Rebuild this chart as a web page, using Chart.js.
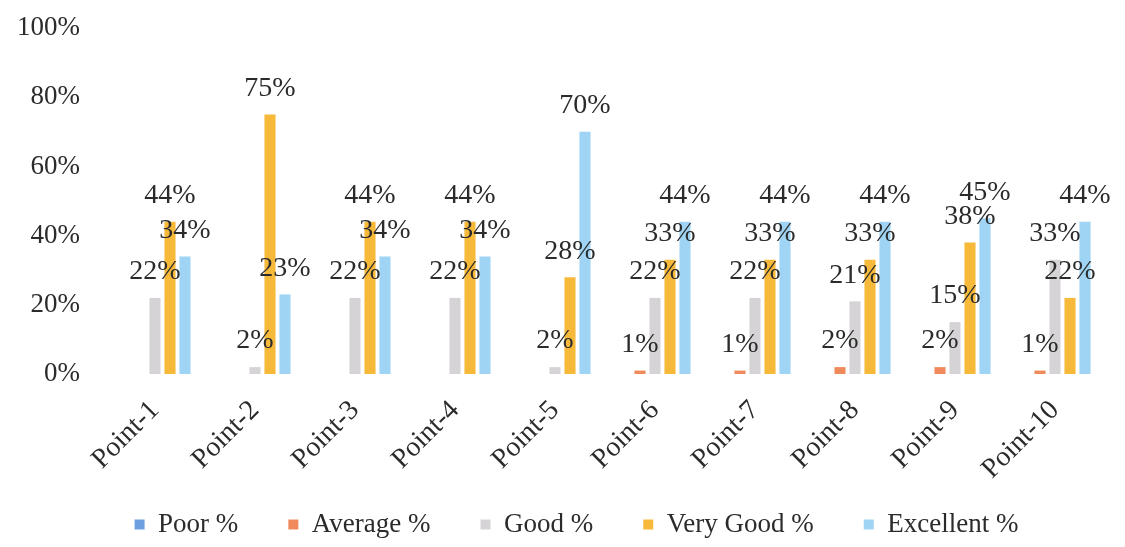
<!DOCTYPE html>
<html>
<head>
<meta charset="utf-8">
<script src="https://cdn.jsdelivr.net/npm/chart.js@4/dist/chart.umd.min.js"></script>
<style>
  html, body { margin: 0; padding: 0; background: #fff; }
  #wrap { width: 1125px; height: 547px; position: relative; }
</style>
</head>
<body>
<div id="wrap"><canvas id="chart"></canvas></div>
<script>
// ---- Data ----
const categories = ["Point-1","Point-2","Point-3","Point-4","Point-5","Point-6","Point-7","Point-8","Point-9","Point-10"];
const poor      = [0, 0, 0, 0, 0, 0, 0, 0, 0, 0];
const average   = [0, 0, 0, 0, 0, 1, 1, 2, 2, 1];
const good      = [22, 2, 22, 22, 2, 22, 22, 21, 15, 33];
const veryGood  = [44, 75, 44, 44, 28, 33, 33, 33, 38, 22];
const excellent = [34, 23, 34, 34, 70, 44, 44, 44, 45, 44];
const yTicks    = [0, 20, 40, 60, 80, 100];

const FONT = "'Liberation Serif', 'Times New Roman', serif";
const TEXT = "#2b2b2b";

// labels drawn over each non-zero bar
const barLabels = {
  id: "barLabels",
  afterDatasetsDraw(chart) {
    const ctx = chart.ctx;
    ctx.save();
    ctx.font = "28px " + FONT;
    ctx.fillStyle = TEXT;
    ctx.textAlign = "center";
    ctx.textBaseline = "middle";
    chart.data.datasets.forEach((ds, i) => {
      const meta = chart.getDatasetMeta(i);
      meta.data.forEach((el, j) => {
        const v = ds.data[j];
        if (!v) return;
        ctx.fillText(v + "%", el.x, el.y - 26);
      });
    });
    ctx.restore();
  }
};

// after layout: nudge legend right, let x labels draw below the shrunk axis box
const layoutTweaks = {
  id: "layoutTweaks",
  afterLayout(chart) {
    if (chart.legend) {
      chart.legend.left += 24;
      chart.legend.right += 24;
    }
    const x = chart.scales.x;
    if (x) x.bottom = chart.height;
  }
};

new Chart(document.getElementById("chart"), {
  type: "bar",
  data: {
    labels: categories,
    datasets: [
      { label: "Poor %",      data: poor,      backgroundColor: "#6A9FE0" },
      { label: "Average %",   data: average,   backgroundColor: "#F08A5D" },
      { label: "Good %",      data: good,      backgroundColor: "#D6D3D6" },
      { label: "Very Good %", data: veryGood,  backgroundColor: "#F7B93A" },
      { label: "Excellent %", data: excellent, backgroundColor: "#9FD4F4" }
    ]
  },
  options: {
    responsive: true,
    maintainAspectRatio: false,
    animation: false,
    layout: { padding: { left: 0, right: 20, top: 28, bottom: -1 } },
    datasets: { bar: { categoryPercentage: 0.75, barPercentage: 0.74 } },
    scales: {
      x: {
        grid: { display: false },
        border: { display: false },
        afterFit: axis => { axis.height -= 37; },
        ticks: {
          color: TEXT,
          font: { family: FONT, size: 28 },
          minRotation: 45,
          maxRotation: 45,
          padding: 12
        }
      },
      y: {
        min: 0,
        max: 100,
        grid: { display: false },
        border: { display: false },
        afterBuildTicks: axis => { axis.ticks = yTicks.map(v => ({ value: v })); },
        afterFit: axis => { axis.paddingTop = 0; axis.paddingBottom = 0; },
        ticks: {
          color: TEXT,
          font: { family: FONT, size: 27 },
          padding: 17,
          callback: v => v + "%"
        }
      }
    },
    plugins: {
      legend: {
        position: "bottom",
        labels: {
          color: TEXT,
          font: { family: FONT, size: 27 },
          boxWidth: 10,
          boxHeight: 10,
          padding: 50
        }
      },
      tooltip: { enabled: false }
    }
  },
  plugins: [barLabels, layoutTweaks]
});
</script>
</body>
</html>
